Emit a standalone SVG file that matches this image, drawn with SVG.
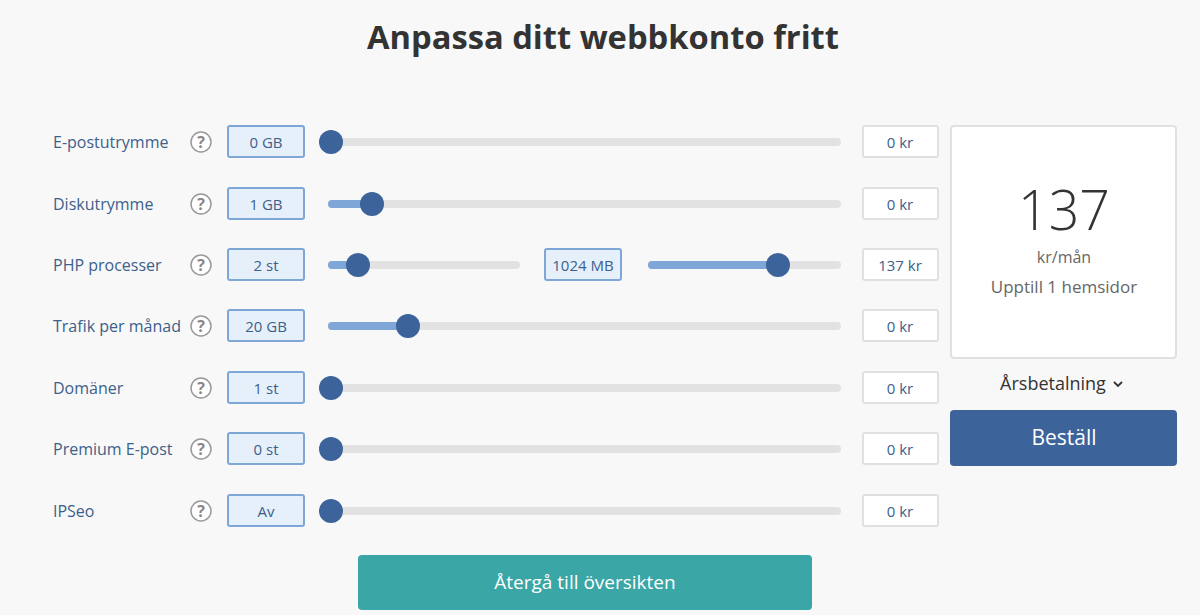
<svg xmlns="http://www.w3.org/2000/svg" width="1200" height="615" viewBox="0 0 1200 615">
<style>
text{font-family:"Source Sans Pro","Open Sans","Noto Sans",sans-serif}
.lbl{font-size:16px;fill:#3d5f8a}
.q{fill:#fff;stroke:#999;stroke-width:1.5}
.qt{font-size:16px;font-weight:bold;fill:#888;text-anchor:middle}
.vb{fill:#e6f0fb;stroke:#7ea6d6;stroke-width:2}
.vt{font-size:15px;fill:#3d5f8a;text-anchor:middle}
.tr{stroke:#e2e2e2;stroke-width:8;stroke-linecap:round}
.fl{stroke:#7ea6d6;stroke-width:8;stroke-linecap:round}
.kn{fill:#3c639a}
.pb{fill:#fff;stroke:#e0e0e0;stroke-width:2}
.pt{font-size:15px;fill:#3d5f8a;text-anchor:middle}
</style>
<rect width="1200" height="615" fill="#f8f8f8"/>
<text x="603" y="49" font-size="33" font-weight="bold" fill="#333" text-anchor="middle" textLength="472" lengthAdjust="spacingAndGlyphs">Anpassa ditt webbkonto fritt</text>
<g id="rows">
<g id="r1"><text class="lbl" x="53" y="148">E-postutrymme</text><circle class="q" cx="201" cy="142" r="10"/><text class="qt" x="201" y="148">?</text><rect class="vb" x="228" y="126" width="76" height="31" rx="2"/><text class="vt" x="266" y="148">0 GB</text><line class="tr" x1="332" y1="142" x2="837" y2="142"/><circle class="kn" cx="331" cy="142" r="12"/><rect class="pb" x="863" y="126" width="75" height="31" rx="2"/><text class="pt" x="900" y="148">0 kr</text></g>
<g id="r2"><text class="lbl" x="53" y="210">Diskutrymme</text><circle class="q" cx="201" cy="204" r="10"/><text class="qt" x="201" y="210">?</text><rect class="vb" x="228" y="188" width="76" height="31" rx="2"/><text class="vt" x="266" y="210">1 GB</text><line class="tr" x1="332" y1="204" x2="837" y2="204"/><line class="fl" x1="332" y1="204" x2="372" y2="204"/><circle class="kn" cx="372" cy="204" r="12"/><rect class="pb" x="863" y="188" width="75" height="31" rx="2"/><text class="pt" x="900" y="210">0 kr</text></g>
<g id="r3"><text class="lbl" x="53" y="271">PHP processer</text><circle class="q" cx="201" cy="265" r="10"/><text class="qt" x="201" y="271">?</text><rect class="vb" x="228" y="249" width="76" height="31" rx="2"/><text class="vt" x="266" y="271">2 st</text><line class="tr" x1="332" y1="265" x2="516" y2="265"/><line class="fl" x1="332" y1="265" x2="358" y2="265"/><circle class="kn" cx="358" cy="265" r="12"/><rect class="vb" x="545" y="249" width="76" height="31" rx="2"/><text class="vt" x="583" y="271">1024 MB</text><line class="tr" x1="652" y1="265" x2="837" y2="265"/><line class="fl" x1="652" y1="265" x2="778" y2="265"/><circle class="kn" cx="778" cy="265" r="12"/><rect class="pb" x="863" y="249" width="75" height="31" rx="2"/><text class="pt" x="900" y="271">137 kr</text></g>
<g id="r4"><text class="lbl" x="53" y="332" textLength="128" lengthAdjust="spacingAndGlyphs">Trafik per månad</text><circle class="q" cx="201" cy="326" r="10"/><text class="qt" x="201" y="332">?</text><rect class="vb" x="228" y="310" width="76" height="31" rx="2"/><text class="vt" x="266" y="332">20 GB</text><line class="tr" x1="332" y1="326" x2="837" y2="326"/><line class="fl" x1="332" y1="326" x2="408" y2="326"/><circle class="kn" cx="408" cy="326" r="12"/><rect class="pb" x="863" y="310" width="75" height="31" rx="2"/><text class="pt" x="900" y="332">0 kr</text></g>
<g id="r5"><text class="lbl" x="53" y="394">Domäner</text><circle class="q" cx="201" cy="388" r="10"/><text class="qt" x="201" y="394">?</text><rect class="vb" x="228" y="372" width="76" height="31" rx="2"/><text class="vt" x="266" y="394">1 st</text><line class="tr" x1="332" y1="388" x2="837" y2="388"/><circle class="kn" cx="331" cy="388" r="12"/><rect class="pb" x="863" y="372" width="75" height="31" rx="2"/><text class="pt" x="900" y="394">0 kr</text></g>
<g id="r6"><text class="lbl" x="53" y="455">Premium E-post</text><circle class="q" cx="201" cy="449" r="10"/><text class="qt" x="201" y="455">?</text><rect class="vb" x="228" y="433" width="76" height="31" rx="2"/><text class="vt" x="266" y="455">0 st</text><line class="tr" x1="332" y1="449" x2="837" y2="449"/><circle class="kn" cx="331" cy="449" r="12"/><rect class="pb" x="863" y="433" width="75" height="31" rx="2"/><text class="pt" x="900" y="455">0 kr</text></g>
<g id="r7"><text class="lbl" x="53" y="517">IPSeo</text><circle class="q" cx="201" cy="511" r="10"/><text class="qt" x="201" y="517">?</text><rect class="vb" x="228" y="495" width="76" height="31" rx="2"/><text class="vt" x="266" y="517">Av</text><line class="tr" x1="332" y1="511" x2="837" y2="511"/><circle class="kn" cx="331" cy="511" r="12"/><rect class="pb" x="863" y="495" width="75" height="31" rx="2"/><text class="pt" x="900" y="517">0 kr</text></g>
</g>
<g id="summary">
<rect x="951" y="126" width="225" height="232" rx="3" fill="#fff" stroke="#e0e0e0" stroke-width="2"/>
<text x="1064" y="230" font-size="56" font-weight="300" fill="#333" text-anchor="middle" textLength="92" lengthAdjust="spacingAndGlyphs">137</text>
<text x="1064" y="263" font-size="16" fill="#666" text-anchor="middle">kr/mån</text>
<text x="1064" y="293" font-size="17" fill="#666" text-anchor="middle">Upptill 1 hemsidor</text>
</g>
<g id="billing"><text x="1053" y="390" font-size="18" fill="#333" text-anchor="middle">Årsbetalning</text><path d="M1114 382 l4 4 l4 -4" fill="none" stroke="#333" stroke-width="1.8"/></g>
<g id="order"><rect x="950" y="410" width="227" height="56" rx="4" fill="#3c639a"/><text x="1064" y="445" font-size="21" fill="#fff" text-anchor="middle">Beställ</text></g>
<g id="back"><rect x="358" y="555" width="454" height="55" rx="4" fill="#3aa6a6"/><text x="585" y="589" font-size="19" fill="#fff" text-anchor="middle">Återgå till översikten</text></g>
<g id="connectors"/>
</svg>
